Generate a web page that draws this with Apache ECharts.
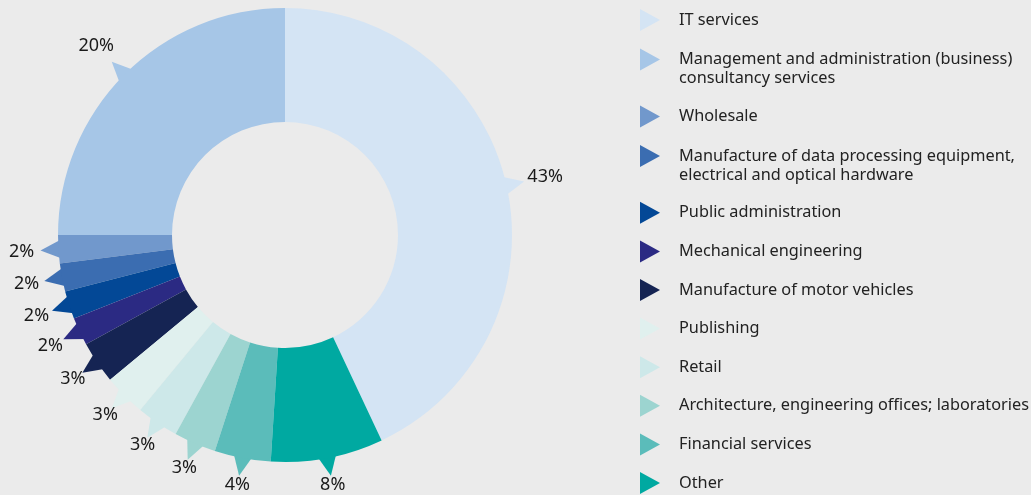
<!DOCTYPE html>
<html>
<head>
<meta charset="utf-8">
<script src="https://cdn.jsdelivr.net/npm/echarts@6/dist/echarts.min.js"></script>
<style>
  html, body { margin: 0; padding: 0; background: #ebebeb; }
  #chart { width: 1031px; height: 495px; }
</style>
</head>
<body>
<div id="chart"></div>
<script>
(function () {
    'use strict';

    var categories = [
        'IT services',
        'Management and administration (business)\nconsultancy services',
        'Wholesale',
        'Manufacture of data processing equipment,\nelectrical and optical hardware',
        'Public administration',
        'Mechanical engineering',
        'Manufacture of motor vehicles',
        'Publishing',
        'Retail',
        'Architecture, engineering offices; laboratories',
        'Financial services',
        'Other'
    ];
    // share of the ring as drawn (percent of the full circle)
    var shares = [43, 25, 2, 2, 2, 2, 3, 3, 3, 3, 4, 8];
    // percentages printed next to the slices
    var shareLabels = ['43%', '20%', '2%', '2%', '2%', '2%', '3%', '3%', '3%', '3%', '4%', '8%'];

    var colors = [
        '#d4e4f4', '#a6c6e7', '#7198cc', '#3b6db1', '#034896', '#2b2a83',
        '#152453', '#e0f0ee', '#cde8e9', '#9cd4d0', '#5bbcba', '#00a9a1'
    ];

    var total = shares.reduce(function (s, v) { return s + v; }, 0);
    var startAngle = (90 - shares[0] / total * 360 + 360) % 360;

    var pieData = categories.map(function (name, i) {
        return { name: name, value: shares[i], itemStyle: { color: colors[i] } };
    });

    // little pointers at the middle of every slice, placed on a polar grid
    var acc = 0;
    var pointerData = shares.map(function (v, i) {
        var mid = acc + v / 2;
        acc += v;
        return { value: [233, mid], itemStyle: { color: colors[i] } };
    });

    // one legend block per entry so two-line names keep the marker on the first line
    var legends = [];
    var top = 9;
    categories.forEach(function (name) {
        var twoLines = name.indexOf('\n') >= 0;
        legends.push({
            orient: 'vertical',
            left: 640,
            top: twoLines ? top - 16.5 : top,
            padding: 0,
            itemWidth: 20,
            itemHeight: 22,
            icon: 'path://M0,0L20,11L0,22Z',
            selectedMode: false,
            data: [name],
            formatter: function (n) { return n.indexOf('\n') >= 0 ? '\n' + n : n; },
            textStyle: {
                fontFamily: 'Noto Sans',
                fontSize: 16.3,
                lineHeight: 19,
                color: '#222',
                padding: [0, 0, 0, 14]
            }
        });
        top += 38.6 + (twoLines ? 19.2 : 0);
    });

    var chart = echarts.init(document.getElementById('chart'));
    chart.setOption({
        backgroundColor: '#ebebeb',
        animation: false,
        legend: legends,
        polar: { center: [285, 235], radius: 260 },
        angleAxis: {
            type: 'value', min: 0, max: total,
            startAngle: startAngle, clockwise: false, show: false
        },
        radiusAxis: { type: 'value', min: 0, max: 260, show: false },
        series: [{
            type: 'pie',
            center: [285, 235],
            radius: [113, 227],
            startAngle: startAngle,
            clockwise: false,
            avoidLabelOverlap: false,
            data: pieData,
            itemStyle: { borderWidth: 0 },
            label: {
                show: true,
                position: 'outside',
                formatter: function (p) { return shareLabels[p.dataIndex]; },
                fontFamily: 'Noto Sans',
                fontSize: 18,
                color: '#1a1a1a'
            },
            labelLine: {
                show: true,
                length: 18,
                length2: 0,
                lineStyle: { width: 1, opacity: 0 }
            },
            labelLayout: function (p) {
                var pts = p.labelLinePoints;
                if (!pts) { return {}; }
                var a = pts[0], b = pts[1];
                var dx = b[0] - a[0], dy = b[1] - a[1];
                var len = Math.sqrt(dx * dx + dy * dy) || 1;
                var ux = dx / len, uy = dy / len;
                var off = 4 + 15 * Math.pow(ux, 4) + 6 * Math.pow(uy, 4) + 18 * Math.max(0, -uy);
                return {
                    x: b[0] + ux * off,
                    y: b[1] + uy * off,
                    align: 'center',
                    verticalAlign: 'middle'
                };
            }
        }, {
            type: 'scatter',
            coordinateSystem: 'polar',
            silent: true,
            z: 1,
            symbol: 'triangle',
            symbolSize: [22, 24],
            symbolRotate: function (val) {
                return startAngle + val[1] / total * 360 - 90;
            },
            itemStyle: { opacity: 1 },
            data: pointerData
        }]
    });
})();
</script>
</body>
</html>
